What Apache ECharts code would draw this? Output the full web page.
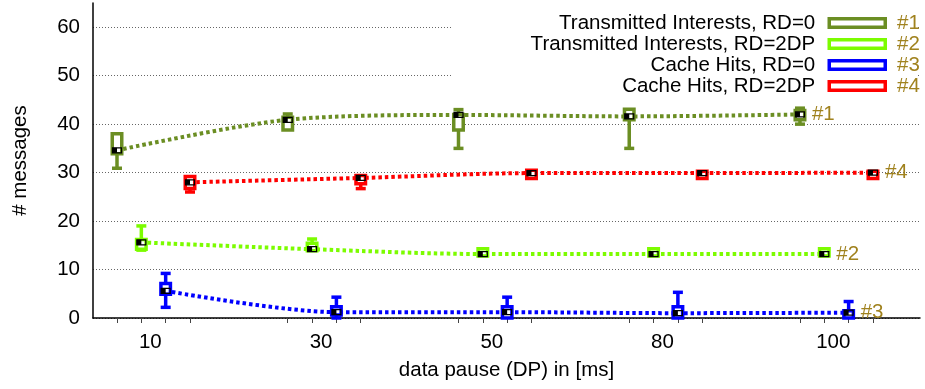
<!DOCTYPE html>
<html><head><meta charset="utf-8">
<script src="https://cdn.jsdelivr.net/npm/echarts@6/dist/echarts.min.js"></script>
<style>html,body{margin:0;padding:0;background:#fff}#c{width:925px;height:389px}</style>
</head><body><div id="c"></div>
<script>
// ---- data ----
const categories = ['10', '30', '50', '80', '100'];
const seriesNames = ['Transmitted Interests, RD=0', 'Transmitted Interests, RD=2DP', 'Cache Hits, RD=0', 'Cache Hits, RD=2DP'];
const seriesTags = ['#1', '#2', '#3', '#4'];
const yTicks = [0, 10, 20, 30, 40, 50, 60];
// each row: [min, q1, q3, max, mean] per category
const ti0 = [[30.9, 33.9, 38.0, 38.0, 34.6], [38.8, 38.8, 41.4, 42.1, 40.9], [35.0, 38.8, 42.0, 43.0, 41.9], [35.0, 40.9, 43.1, 43.1, 41.6], [40.0, 40.9, 42.8, 43.3, 42.0]];
const ti2 = [[14.0, 14.2, 16.2, 19.0, 15.6], [13.9, 13.9, 15.4, 16.3, 14.2], [12.8, 12.8, 14.3, 14.3, 13.2], [12.8, 12.8, 14.3, 14.3, 13.2], [12.8, 12.8, 14.3, 14.3, 13.2]];
const ch0 = [[2.2, 4.9, 7.1, 9.2, 5.6], [0, 0.6, 2.3, 4.3, 1.2], [0, 0, 2.3, 4.3, 1.2], [0, 0, 2.3, 5.3, 1.0], [0, 0, 1.5, 3.4, 1.1]];
const ch2 = [[26.0, 26.7, 29.2, 29.2, 28.0], [26.7, 27.7, 29.4, 29.4, 28.9], [28.8, 28.8, 30.5, 30.5, 29.9], [28.8, 28.8, 30.3, 30.3, 29.9], [28.8, 28.8, 30.3, 30.3, 30.0]];
const allData = [ti0, ti2, ch0, ch2];

// ---- style / layout ----
const colors = ['#6b8e23', '#7cfc00', '#0000ff', '#ff0000'];
const tagColor = '#a0821e';
const FONT = 'Liberation Sans';
const FS = 20.5;
const SLOT = 0.1425;           // offset between series inside a group (group spacing = 1)
const LABEL_OFF = 0.195;
const X_MIN = -0.1406, X_MAX = 4.703;

const tickPositions = [];
categories.forEach((c, i) => { for (let k = 0; k < 4; k++) tickPositions.push(i + k * SLOT); });
const labelPositions = categories.map((c, i) => i + LABEL_OFF);

function renderBox(params, api) {
  const x = api.value(0);
  const pMin = api.coord([x, api.value(1)]);
  const pQ1 = api.coord([x, api.value(2)]);
  const pQ3 = api.coord([x, api.value(3)]);
  const pMax = api.coord([x, api.value(4)]);
  const pMean = api.coord([x, api.value(5)]);
  const color = api.visual('color');
  const cx = pQ1[0];
  const bw = 9.5, cw = 10, lw = 3.5;
  const ch = [];
  const st = { stroke: color, lineWidth: lw };
  if (pMin[1] - pQ1[1] > 0.8) {
    ch.push({ type: 'line', shape: { x1: cx, y1: pQ1[1], x2: cx, y2: pMin[1] }, style: st });
    ch.push({ type: 'line', shape: { x1: cx - cw / 2, y1: pMin[1], x2: cx + cw / 2, y2: pMin[1] }, style: st });
  }
  if (pQ3[1] - pMax[1] > 0.8) {
    ch.push({ type: 'line', shape: { x1: cx, y1: pQ3[1], x2: cx, y2: pMax[1] }, style: st });
    ch.push({ type: 'line', shape: { x1: cx - cw / 2, y1: pMax[1], x2: cx + cw / 2, y2: pMax[1] }, style: st });
  }
  ch.push({ type: 'rect', shape: { x: cx - bw / 2, y: pQ3[1], width: bw, height: Math.max(pQ1[1] - pQ3[1], 1) },
    style: { fill: '#fff', stroke: color, lineWidth: lw } });
  ch.push({ type: 'rect', shape: { x: cx - 4.5, y: pMean[1] - 2.5, width: 9, height: 5 },
    style: { fill: 'rgba(0,0,0,0)', stroke: '#000', lineWidth: 1.2 } });
  ch.push({ type: 'rect', shape: { x: cx - 4.5, y: pMean[1] - 2.5, width: 4.5, height: 5 },
    style: { fill: '#000' } });
  return { type: 'group', children: ch };
}

const series = [];
allData.forEach((rows, s) => {
  series.push({
    name: seriesNames[s] + ' (mean)',
    type: 'line',
    z: 2,
    data: rows.map((r, i) => [i + s * SLOT, r[4]]),
    smooth: 0.3,
    symbol: 'none',
    lineStyle: { color: colors[s], width: 4, type: [3.5, 3] },
    itemStyle: { color: colors[s] },
    endLabel: { show: true, formatter: seriesTags[s], color: tagColor, fontSize: FS, fontFamily: FONT, distance: 12 },
    silent: true
  });
});
allData.forEach((rows, s) => {
  series.push({
    name: seriesNames[s],
    type: 'custom',
    z: 3,
    clip: false,
    itemStyle: { color: colors[s] },
    renderItem: renderBox,
    encode: { x: 0, y: [1, 2, 3, 4, 5] },
    data: rows.map((r, i) => [i + s * SLOT, r[0], r[1], r[2], r[3], r[4]])
  });
});

const chart = echarts.init(document.getElementById('c'), null, { renderer: 'canvas' });
chart.setOption({
  animation: false,
  backgroundColor: '#fff',
  textStyle: { fontFamily: FONT, color: '#000' },
  grid: { left: 93, right: 5, top: 3, bottom: 71, containLabel: false },
  xAxis: {
    type: 'value', min: X_MIN, max: X_MAX,
    axisLine: { show: true, lineStyle: { color: '#000', width: 1.5 } },
    axisTick: { show: true, customValues: tickPositions, length: 5, inside: false, lineStyle: { color: '#444', width: 1 } },
    axisLabel: { customValues: labelPositions, formatter: (v) => categories[Math.round(v - LABEL_OFF)],
      fontSize: FS, color: '#000', fontFamily: FONT, margin: 14 },
    splitLine: { show: false },
    name: 'data pause (DP) in [ms]', nameLocation: 'middle', nameGap: 42,
    nameTextStyle: { fontSize: FS, color: '#000', fontFamily: FONT }
  },
  yAxis: {
    type: 'value', min: 0, max: 65,
    axisLine: { show: true, onZero: false, lineStyle: { color: '#000', width: 1.5 } },
    axisTick: { show: false, customValues: yTicks },
    axisLabel: { customValues: yTicks, fontSize: FS, color: '#000', fontFamily: FONT, margin: 13 },
    splitLine: { show: true, lineStyle: { type: [1, 2], color: '#666', width: 1 } },
    name: '# messages', nameLocation: 'middle', nameGap: 62, nameRotate: 90,
    nameTextStyle: { fontSize: FS, color: '#000', fontFamily: FONT }
  },
  legend: {
    orient: 'vertical', right: 38, top: 12.5, padding: 0, itemGap: 0,
    align: 'right', itemWidth: 56, itemHeight: 8.5, z: 6,
    selectedMode: false,
    textStyle: { fontSize: FS, color: '#000', fontFamily: FONT, lineHeight: 21, padding: [0, 9, 0, 0] },
    data: seriesNames.map((n, s) => ({ name: n, icon: 'rect',
      itemStyle: { color: '#fff', borderColor: colors[s], borderWidth: 3.5 } }))
  },
  graphic: [
    { type: 'rect', z: 5, shape: { x: 453, y: 0, width: 463, height: 100 }, style: { fill: '#fff' }, silent: true }
  ].concat(seriesTags.map((t, s) => ({
    type: 'text', z: 7, x: 897, y: 23 + s * 21.1,
    style: { text: t, fill: tagColor, fontSize: FS, fontFamily: FONT, verticalAlign: 'middle' }
  }))),
  series: series
});
</script>
</body></html>
